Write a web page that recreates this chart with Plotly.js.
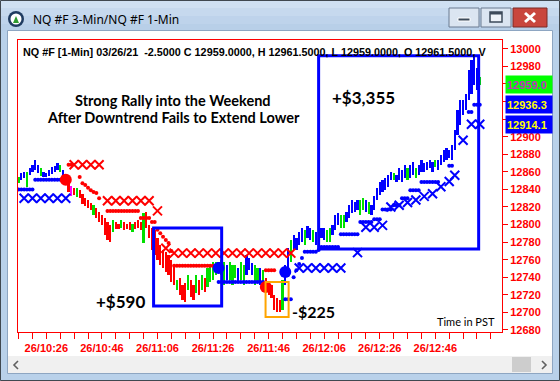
<!DOCTYPE html>
<html><head><meta charset="utf-8">
<script src="https://cdn.plot.ly/plotly-3.0.1.min.js"></script>
<style>html,body{margin:0;padding:0;background:#fff;overflow:hidden}#chart{width:560px;height:381px}</style>
</head><body><div id="chart"></div>
<script>
// ---- data (1-minute bars, NQ #F, 2021-03-26, first bar 10:16 PST) ----
const sessionDate = '2021-03-26';
const firstBarClock = [10, 16];
const barHigh = [
 12854,12859,12860,12860,12864.5,12868,12874,12868,12864.5,12860,
 12859,12862,12866,12867,12870,12868,12862,12855,12848.5,12844,
 12842,12842,12839,12835,12830,12828,12824.5,12822,12819,12814,
 12811,12807.5,12803,12799.5,12805,12803,12800.5,12805,12803,12800.5,
 12803,12800.5,12803,12805,12803,12813,12814,12799.5,12796,12794,
 12784.5,12777,12771,12769,12765,12760,12754,12737,12739,12731,
 12733.5,12742.5,12737,12731,12742.5,12737,12742.5,12739,12750.5,12754,
 12757,12757,12757,12760,12757,12754,12757,12754,12754,12750.5,
 12757,12754,12765,12762,12756,12754,12750.5,12750.5,12748,12739,
 12734.5,12731,12720,12716,12714,12737,12754,12773,12782.5,12788,
 12784.5,12791.5,12796,12794,12798,12796,12794,12791.5,12794,12796,
 12796,12794,12796,12799.5,12811,12813,12811,12811,12814,12822,
 12828,12825.5,12828,12828,12830,12828,12825.5,12822,12833,12842,
 12848.5,12851,12853,12856.5,12860,12859,12856.5,12864.5,12862,12868,
 12864.5,12868,12871,12864.5,12868,12874,12870,12871,12874,12871,
 12874,12874,12879,12885,12887,12885,12891,12908,12930.5,12942,
 12942,12948,12976,12987.5,12991,12978,12968];
const barLow = [
 12847,12851,12853,12843,12856.5,12860,12862,12859,12855,12854,
 12854,12855,12858,12860,12862,12860,12853,12846,12837,12832.5,
 12834,12831,12830,12823.5,12821,12819,12816.5,12811,12807.5,12803,
 12799.5,12788,12782.5,12780,12791.5,12795,12795,12796,12794,12795,
 12794,12791.5,12795,12796,12794,12779,12796,12784.5,12771,12765,
 12760,12754,12750.5,12746,12742.5,12734.5,12731,12725.5,12720,12714,
 12712,12725.5,12717.5,12714,12722,12720,12725.5,12723,12729,12734.5,
 12737,12742.5,12746,12742.5,12731,12737,12737,12731,12739,12734.5,
 12737,12731,12742.5,12748,12742.5,12731,12733.5,12731,12731,12723,
 12720,12716,12703,12700.5,12700.5,12703,12731,12746,12757,12771,
 12771,12777,12780,12777,12784.5,12782.5,12780,12777,12782.5,12784.5,
 12782.5,12780,12780,12788,12794,12799.5,12796,12796,12803,12807.5,
 12813,12814,12816.5,12811,12816.5,12814,12812,12811,12816.5,12828,
 12834,12837,12839,12843,12851,12851,12848.5,12851,12848.5,12853,
 12851,12853,12856.5,12853,12856.5,12860,12860,12862,12864.5,12860,
 12866,12862,12868,12871,12874,12876,12874,12885,12902,12913,
 12925,12930.5,12942,12948,12959,12953,12959];
const barState = [
 'G','B','B','G','B','B','B','B','G','B',
 'B','B','B','B','B','G','B','R','R','M',
 'R','G','R','R','R','R','R','G','R','R',
 'R','R','R','R','G','R','R','G','R','R',
 'R','G','R','R','R','G','R','R','R','R',
 'R','R','R','R','R','R','R','G','R','R',
 'R','G','R','R','G','R','G','R','G','G',
 'G','G','B','G','G','B','G','G','G','B',
 'G','G','B','B','B','G','G','B','G','R',
 'R','R','R','R','R','G','B','B','G','B',
 'B','B','B','G','B','B','G','B','B','B',
 'B','G','G','B','B','B','G','G','B','B',
 'B','B','B','G','G','B','G','B','B','B',
 'B','B','B','B','B','G','B','B','B','B',
 'G','B','B','G','B','B','B','B','B','B',
 'G','B','B','B','B','B','B','B','B','B',
 'B','B','B','B','B','B','G'];
const N = null;
const blueTrail = [
 12840,12840,12840,12840,12840,12840,12851,12851,12851,12851,
 12851,12851,12851,12851,12851,12851,12851,N,N,N,
 N,N,N,N,N,N,N,N,N,N,
 N,N,N,N,N,N,N,N,N,N,
 N,N,N,N,N,N,N,N,N,N,
 N,N,N,N,N,N,N,N,N,N,
 N,N,N,N,N,N,N,N,N,N,
 N,N,12734.5,12734.5,12734.5,12734.5,12734.5,12734.5,12734.5,12734.5,
 12734.5,12734.5,12734.5,12734.5,12734.5,12734.5,12734.5,12734.5,12734.5,N,
 N,N,N,N,N,N,12715,12715,12715,12740,
 12748,12755,12762,12769,12769,12769,12769,12769,12771,12774.5,
 12774.5,12774.5,12774.5,12774.5,12774.5,12774.5,12789,12789,12789,12789,
 12789,12789,12789,12803,12803,12803,12803,12803,12806,12806,
 12806,12817,12817,12817,12817,12822,12822,12822,12830,12830,
 12830,12839,12839,12839,12839,12848.5,12848.5,12848.5,12848.5,12848.5,
 12848.5,12848.5,N,N,N,12867,12867,N,N,N,
 N,N,12928,12928,12936.3,12936.3,12936.3];
const redTrail = [
 N,N,N,N,N,N,N,N,N,N,
 N,N,N,N,N,N,N,N,12868,12868,
 N,N,12854,12847,12845,12842,12839,12837,12836,12830,
 N,N,12815.5,12815.5,12815.5,12815.5,12815.5,12815.5,12815.5,12815.5,
 12815.5,12815.5,12815.5,12815.5,12807.5,12807.5,12807.5,12807.5,12803,12803,
 12794,12790,12786,12782.5,12779,12770,12753,12753,12753,12753,
 12753,12753,12753,12753,12753,12753,12753,12753,12753,12753,
 12753,12753,N,N,N,N,N,N,N,N,
 N,N,N,N,N,N,N,N,N,12748,
 12748,12748,12748,N,N,N,N,N,N,N];
const redStopMin = [20,23,26,29,32,35,38,41,44,47,50,53,56,59,62,65,68,71,74,77,80,83,86,89,92,95,98];
const redStopVal = [12868,12868,12868,12868,12827,12827,12827,12827,12827,12827,12815.5,12773,
 12767.5,12767.5,12767.5,12767.5,12767.5,12767.5,12767.5,12767.5,12767.5,12767.5,12767.5,12767.5,12767.5,12767.5,12767.5];
const blueStopMin = [2,5,8,11,14,17,101,104,107,110,113,116,122,125,128,131,134,137,140,143,146,149,152,155,157,160,163,166];
const blueStopVal = [12830,12830,12830,12830,12830,12830,12750.5,12750.5,12750.5,12750.5,12750.5,12750.5,
 12768,12797,12797,12799,12820,12822,12825,12828,12832,12835,12843,12849,12856,12896,12914.1,12914.1];
const signalMin = [17,72,89,96];
const signalVal = [12851,12750.5,12729,12746];
const signalState = ['R','B','R','B'];
const lastLabels = [{text:'12959.0', value:12959.0, kind:'price'},
                    {text:'12936.3', value:12936.3, kind:'trail'},
                    {text:'12914.1', value:12914.1, kind:'stop'}];
const priceTicks = [12680,12700,12720,12740,12760,12780,12800,12820,12840,12860,12880,12900,12920,12940,12960,12980,13000];
const priceTicksHidden = [12920,12940,12960]; // covered by the last-value boxes
const timeTickMinutes = [10,30,50,70,90,110,130,150];
const headerText = 'NQ #F [1-Min] 03/26/21  -2.5000 C 12959.0000, H 12961.5000, L 12959.0000, O 12961.5000, V';
const windowTitle = 'NQ #F 3-Min/NQ #F 1-Min';
const noteLines = ['Strong Rally into the Weekend', 'After Downtrend Fails to Extend Lower'];
const tradeResults = ['+$590', '-$225', '+$3,355'];

// ---- helpers ----
const stateColor = {B:'#0000ff', R:'#ff0000', G:'#00e000', M:'#ff00ff'};
function pad(n){return (n<10?'0':'')+n;}
function T(m){
  const s = Math.round((firstBarClock[0]*60 + firstBarClock[1] + m)*60);
  const hh = Math.floor(s/3600), mm = Math.floor((s%3600)/60), ss = s%60;
  return sessionDate+' '+pad(hh)+':'+pad(mm)+':'+pad(ss);
}
const idx = barHigh.map((_,i)=>i);
const times = idx.map(T);
function PX(x){return (x-18)/484;}
function PY(y){return (332-y)/292;}
const clear='rgba(0,0,0,0)';
function rectPx(x0,y0,x1,y1,fill,lc,lw){
  return {type:'rect',xref:'paper',yref:'paper',x0:PX(x0),x1:PX(x1),y0:PY(y1),y1:PY(y0),
    fillcolor:fill||clear,line:{color:lc||clear,width:lw||0},layer:'above'};
}
function circPx(x0,y0,x1,y1,fill){
  return {type:'circle',xref:'paper',yref:'paper',x0:PX(x0),x1:PX(x1),y0:PY(y1),y1:PY(y0),
    fillcolor:fill,line:{width:0},layer:'above'};
}
function pathPx(pts,fill,lc,lw,close){
  let d = pts.map((p,i)=>(i?'L':'M')+PX(p[0])+','+PY(p[1])).join(' ')+(close?' Z':'');
  return {type:'path',xref:'paper',yref:'paper',path:d,fillcolor:fill||clear,line:{color:lc||clear,width:lw||0},layer:'above'};
}

// ---- traces ----
const traces = [];
traces.push({type:'bar', x:times, base:barLow, y:idx.map(i=>barHigh[i]-barLow[i]),
  width:0.8*60000, marker:{color:barState.map(s=>stateColor[s]), line:{width:0}}, hoverinfo:'skip'});
traces.push({type:'scatter', mode:'markers', x:times, y:blueTrail,
  marker:{color:'#0000ff', size:4}, hoverinfo:'skip'});
traces.push({type:'scatter', mode:'markers', x:times, y:redTrail,
  marker:{color:'#ff0000', size:4}, hoverinfo:'skip'});
traces.push({type:'scatter', mode:'markers', x:redStopMin.map(T), y:redStopVal,
  marker:{symbol:'x-thin', size:9, color:'#ff0000', line:{color:'#ff0000', width:2}}, hoverinfo:'skip'});
traces.push({type:'scatter', mode:'markers', x:blueStopMin.map(T), y:blueStopVal,
  marker:{symbol:'x-thin', size:9, color:'#0000ff', line:{color:'#0000ff', width:2}}, hoverinfo:'skip'});
traces.push({type:'scatter', mode:'markers', x:signalMin.map(T), y:signalVal,
  marker:{size:12, color:signalState.map(s=>stateColor[s])}, hoverinfo:'skip'});

// ---- shapes ----
const shapes = [];
shapes.push({type:'rect',xref:'x',yref:'y',x0:T(48.6),x1:T(73.1),y0:12707.3,y1:12796,line:{color:'#0000ff',width:3},layer:'above'});
shapes.push({type:'rect',xref:'x',yref:'y',x0:T(88.9),x1:T(97.2),y0:12694.7,y1:12734.6,line:{color:'#ffa500',width:2},layer:'above'});
shapes.push({type:'rect',xref:'x',yref:'y',x0:T(108),x1:T(165.6),y0:12772.2,y1:12992,line:{color:'#0000ff',width:3},layer:'above'});
// window chrome
shapes.push(rectPx(0,0,560,8,'#cfe0f2'));
shapes.push(rectPx(0,8,560,16,'#c6d9ee'));
shapes.push(rectPx(0,16,560,24,'#bed3eb'));
shapes.push(rectPx(0,24,560,31,'#b8cfe8'));
shapes.push(rectPx(0,31,8,381,'#b9d1ea'));
shapes.push(rectPx(552,31,560,381,'#b9d1ea'));
shapes.push(rectPx(0,373,560,381,'#b9d1ea'));
shapes.push(rectPx(8,356,552,373,'#f0f0f0'));
shapes.push(rectPx(512,357,531,372,'#cdcdcd'));
shapes.push(pathPx([[18,361],[14,365],[18,369]],null,'#606060',1.6,false));
shapes.push(pathPx([[542,361],[546,365],[542,369]],null,'#606060',1.6,false));
shapes.push(rectPx(7.5,30.5,552.5,373.5,null,'#8ea6c2',1));
shapes.push(rectPx(0.5,0.5,559.5,380.5,null,'#404850',1));
shapes.push(circPx(8,11,24,27,'#1f3b60'));
shapes.push(circPx(10.5,13.5,21.5,24.5,'#ffffff'));
shapes.push(pathPx([[13,23],[16,16],[19,23]],'#2f9a2f',null,0,true));
shapes.push(rectPx(449,8,479,27,'#dbe5f1','#6b7b90',1));
shapes.push(rectPx(458,18,470,21,'#3d4a5a','#ffffff',1));
shapes.push(rectPx(481,8,511,27,'#dbe5f1','#6b7b90',1));
shapes.push(rectPx(490,12,502,22,'#eef3f9','#3d4a5a',1.5));
shapes.push(rectPx(490,12,502,14.5,'#3d4a5a'));
shapes.push(rectPx(513,8,547,27,'#c9463d','#7a2b26',1));
shapes.push(pathPx([[525,13],[535,22]],null,'#ffffff',3,false));
shapes.push(pathPx([[525,22],[535,13]],null,'#ffffff',3,false));

// ---- annotations ----
const ann = [];
function txt(text,x,y,opt){
  return Object.assign({text:text,xref:'paper',yref:'paper',x:PX(x),y:PY(y),showarrow:false,
    xanchor:'center',yanchor:'middle',font:{family:'Lato, sans-serif',size:14,color:'#000',weight:'bold'}},opt||{});
}
ann.push(txt(windowTitle,31,19,{xanchor:'left',font:{family:'Noto Sans, sans-serif',size:12,color:'#000'}}));
ann.push(txt(headerText,21,52,{xanchor:'left',font:{family:'Liberation Sans, Arial, sans-serif',size:10.8,color:'#000',weight:'bold'}}));
ann.push(txt(noteLines[0],173,101,{font:{family:'Lato, sans-serif',size:14.5,color:'#000',weight:'bold'}}));
ann.push(txt(noteLines[1],173,118,{font:{family:'Lato, sans-serif',size:14.5,color:'#000',weight:'bold'}}));
ann.push(txt(tradeResults[2],363,97,{font:{family:'Lato, sans-serif',size:17,color:'#000',weight:'bold'}}));
ann.push(txt(tradeResults[0],120,301,{font:{family:'Lato, sans-serif',size:17,color:'#000',weight:'bold'}}));
ann.push(txt(tradeResults[1],290,311,{xanchor:'left',font:{family:'Lato, sans-serif',size:16,color:'#000',weight:'bold'}}));
ann.push(txt('Time in PST',497,321,{xanchor:'right',font:{family:'Lato, sans-serif',size:11,color:'#000'}}));
const labelStyle = {price:{bg:'#00ff00',fg:'#c030c0'}, trail:{bg:'#0000ff',fg:'#ffff00'}, stop:{bg:'#0000ff',fg:'#ffff00'}};
lastLabels.forEach(l=>{
  ann.push({text:l.text,xref:'paper',yref:'y',x:PX(505),y:l.value,xanchor:'left',yanchor:'middle',
    showarrow:false,width:44,height:15,align:'left',borderpad:1,bgcolor:labelStyle[l.kind].bg,
    font:{family:'Liberation Sans, Arial, sans-serif',size:11,color:labelStyle[l.kind].fg,weight:'bold'}});
});

const tickFont = {family:'Liberation Sans, Arial, sans-serif',size:11,color:'#ff0000',weight:'bold'};
const layout = {
  width:560, height:381, margin:{l:18,r:58,t:40,b:49,pad:0},
  paper_bgcolor:'#ffffff', plot_bgcolor:'#ffffff', showlegend:false, bargap:0,
  xaxis:{type:'date', range:[T(-0.2),T(174)], tickmode:'array', tickvals:timeTickMinutes.map(T), tickformat:'%d/%H:%M',
    ticks:'outside', ticklen:6, tickcolor:'#ff0000', showline:true, linecolor:'#ff0000', linewidth:1, mirror:true,
    showgrid:false, zeroline:false, tickfont:tickFont,
    minor:{tick0:T(10), dtick:300000, ticks:'outside', ticklen:6, tickcolor:'#ff0000', showgrid:false}},
  yaxis:{side:'right', range:[12677.7,13010], tickmode:'array', tickvals:priceTicks,
    ticktext:priceTicks.map(v=>priceTicksHidden.indexOf(v)>=0?'':String(v)),
    ticks:'outside', ticklen:5, tickcolor:'#ff0000',
    showline:true, linecolor:'#ff0000', linewidth:1, mirror:true, showgrid:false, zeroline:false, tickfont:tickFont},
  shapes:shapes, annotations:ann
};
Plotly.newPlot('chart', traces, layout, {staticPlot:true, displayModeBar:false});
</script>
</body></html>
